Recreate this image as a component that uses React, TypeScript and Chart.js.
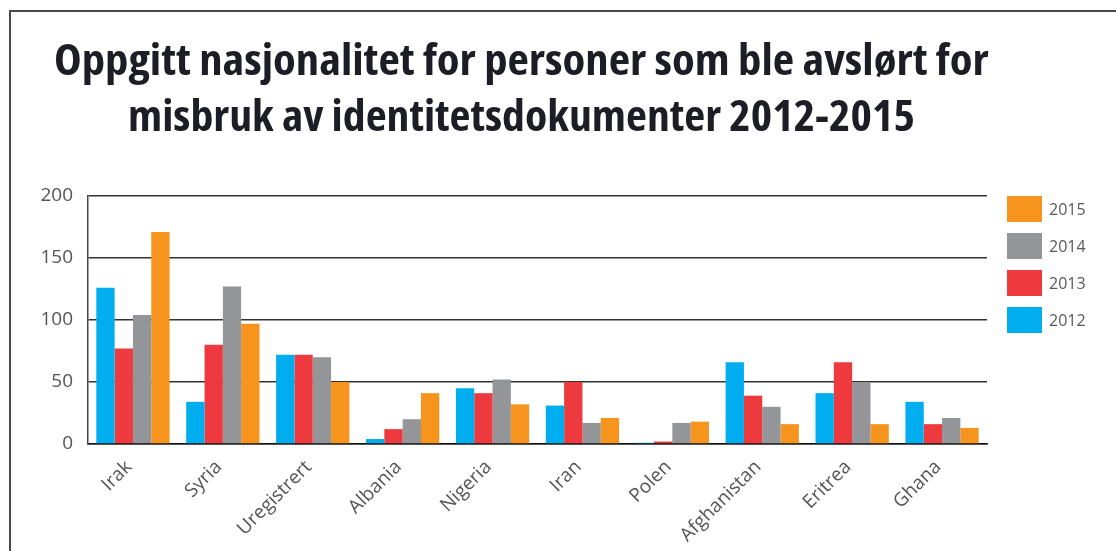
import React, { useEffect, useRef } from "react";
import { Chart, registerables } from "chart.js";

Chart.register(...registerables);

const TITLE_LINES = [
  "Oppgitt nasjonalitet for personer som ble avslørt for",
  "misbruk av identitetsdokumenter 2012-2015",
];
const TITLE_WIDTHS = [935, 787];
const TITLE_CENTER = 521;

const categories = [
  "Irak",
  "Syria",
  "Uregistrert",
  "Albania",
  "Nigeria",
  "Iran",
  "Polen",
  "Afghanistan",
  "Eritrea",
  "Ghana",
];

const years = ["2012", "2013", "2014", "2015"];
const values2012 = [126, 34, 72, 4, 45, 31, 1, 66, 41, 34];
const values2013 = [77, 80, 72, 12, 41, 50, 2, 39, 66, 16];
const values2014 = [104, 127, 70, 20, 52, 17, 17, 30, 50, 21];
const values2015 = [171, 97, 50, 41, 32, 21, 18, 16, 16, 13];
const seriesColors = ["#00aeef", "#ee3a3f", "#939598", "#f7941d"];

const yMin = 0;
const yMax = 200;
const yStep = 50;

const legendPlugin = {
  id: "sideLegend",
  afterDraw(chart: any) {
    const { ctx, chartArea } = chart;
    const ds = chart.data.datasets.slice().reverse();
    ctx.save();
    ctx.font = '400 16px "Open Sans", sans-serif';
    ctx.textBaseline = "middle";
    ctx.textAlign = "left";
    ds.forEach((d: any, i: number) => {
      const x = chartArea.right + 20;
      const y = chartArea.top + i * 37;
      ctx.fillStyle = d.backgroundColor;
      ctx.fillRect(x, y, 35, 26);
      ctx.fillStyle = "#58595b";
      ctx.fillText(d.label, x + 42, y + 14);
    });
    ctx.restore();
  },
};

export default function App() {
  const canvasRef = useRef<HTMLCanvasElement | null>(null);
  const lineRefs = useRef<(HTMLSpanElement | null)[]>([]);

  useEffect(() => {
    lineRefs.current.forEach((el, i) => {
      if (!el) return;
      const w = el.offsetWidth;
      if (w > 0) {
        el.style.left = `${TITLE_CENTER - TITLE_WIDTHS[i] / 2}px`;
        el.style.transform = `scaleX(${TITLE_WIDTHS[i] / w})`;
      }
    });

    const canvas = canvasRef.current;
    if (!canvas) return;
    const seriesValues = [values2012, values2013, values2014, values2015];
    const chart = new Chart(canvas, {
      type: "bar",
      data: {
        labels: categories,
        datasets: years.map((y, i) => ({
          label: y,
          data: seriesValues[i],
          backgroundColor: seriesColors[i],
          borderWidth: 0,
          categoryPercentage: 0.815,
          barPercentage: 1.0,
        })),
      },
      options: {
        animation: false,
        responsive: false,
        layout: { padding: { top: 196, right: 129, bottom: 0, left: 0 } },
        plugins: {
          legend: { display: false },
          tooltip: { enabled: false },
          title: { display: false },
        },
        scales: {
          x: {
            grid: { display: false, drawTicks: false },
            border: { display: true, color: "#111111", width: 1.5 },
            ticks: {
              minRotation: 45,
              maxRotation: 45,
              autoSkip: false,
              padding: 12,
              labelOffset: -4,
              color: "#555555",
              font: { family: '"Open Sans", sans-serif', size: 19 },
            },
            afterFit: (s: any) => {
              s.height = 107;
            },
          },
          y: {
            min: yMin,
            max: yMax,
            grid: { color: "#333333", lineWidth: 1.5, drawTicks: false },
            border: { display: true, color: "#444444", width: 1.5 },
            ticks: {
              stepSize: yStep,
              padding: 15,
              color: "#555555",
              font: { family: '"Open Sans", sans-serif', size: 19 },
            },
            afterFit: (s: any) => {
              s.width = 88;
            },
          },
        },
      },
      plugins: [legendPlugin],
    });
    return () => chart.destroy();
  }, []);

  return (
    <div
      style={{
        position: "fixed",
        left: 0,
        top: 0,
        width: 1116,
        height: 551,
        overflow: "hidden",
        background: "#ffffff",
      }}
    >
      <div
        style={{
          position: "absolute",
          left: 9,
          top: 10,
          width: 1200,
          height: 700,
          borderTop: "2px solid #4a4a4a",
          borderLeft: "2px solid #4a4a4a",
        }}
      />
      <canvas
        ref={canvasRef}
        width={1116}
        height={551}
        style={{ position: "absolute", left: 0, top: 0, display: "block" }}
      />
      {TITLE_LINES.map((t, i) => (
        <span
          key={i}
          ref={(el) => {
            lineRefs.current[i] = el;
          }}
          style={{
            position: "absolute",
            left: 0,
            top: 31 + i * 56,
            display: "inline-block",
            transformOrigin: "0 0",
            fontFamily: '"Open Sans", sans-serif',
            fontStretch: "condensed",
            fontWeight: 700,
            fontSize: 43,
            lineHeight: "56px",
            color: "#1d1d26",
            whiteSpace: "nowrap",
          }}
        >
          {t}
        </span>
      ))}
    </div>
  );
}
